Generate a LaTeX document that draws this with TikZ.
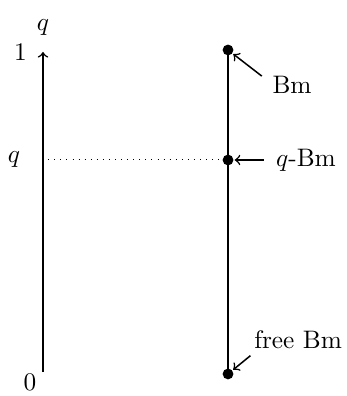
\documentclass[tikz,border=0pt]{standalone}
\usetikzlibrary{positioning}

\begin{document}
\begin{tikzpicture}[
  dot/.style={circle, fill, inner sep=0pt, minimum size=1.5mm},
  ax/.style={->, semithick},
  pt/.style={->, semithick, shorten >=0.3pt}]
  \useasboundingbox (0,0) rectangle (4.806,5.5);
  % axis
  \coordinate (bot) at (0.597,0.333);
  \coordinate (top) at (0.597,4.778);
  \draw[ax] (bot) -- (top);
  \node[above=1mm of top] (qlab) {$q$};
  \node[left=1mm of top] (one) {$1$};
  \node (zero) at (0.417,0.19) {$0$};
  \coordinate (qax) at (0.67,3.278);
  \node (qval) at (0.194,3.278) {$q$};
  % Brownian motions
  \node[dot] (d1) at (3.167,4.806) {};
  \node[dot] (dq) at (3.167,3.278) {};
  \node[dot] (d0) at (3.167,0.306) {};
  \draw[thick] (d0.center) -- (d1.center);
  \draw[dotted] (qax) -- (dq);
  \node (bm)  at (4.056,4.319) {Bm};
  \node (qbm) at (4.25,3.278)  {$q$-Bm};
  \node (fbm) at (4.14,0.78)   {free Bm};
  \draw[pt] ([xshift=-0.25mm,yshift=-1.2mm]bm.north west) -- (d1);
  \draw[pt] ([xshift=-0.5mm]qbm.west) -- (dq);
  \draw[pt] ([xshift=0.7mm,yshift=0.3mm]fbm.south west) -- (d0);
\end{tikzpicture}
\end{document}
